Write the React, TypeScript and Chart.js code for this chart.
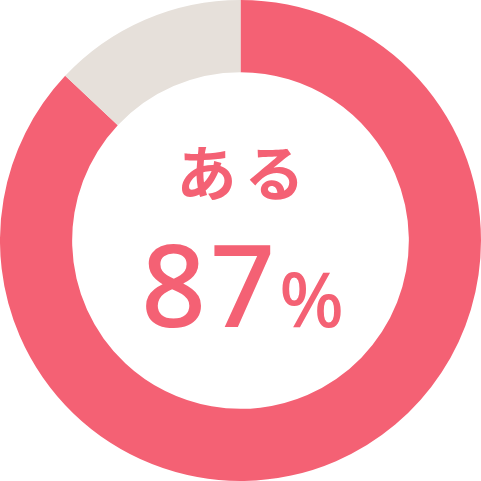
import React, { useEffect, useRef } from 'react'
import { Chart, registerables } from 'chart.js'

Chart.register(...registerables)

const labels = ['ある', 'ない']
const values = [87, 13]
const colors = ['#F46174', '#E6E0DA']
const centerLabel = 'ある'
const centerValue = '87'

export default function App() {
  const chartRef = useRef<HTMLCanvasElement>(null)
  const chartInstance = useRef<Chart | null>(null)

  useEffect(() => {
    document.body.style.margin = '0'
    if (!chartRef.current) return
    if (chartInstance.current) chartInstance.current.destroy()

    chartInstance.current = new Chart(chartRef.current, {
      type: 'doughnut',
      data: {
        labels,
        datasets: [{
          data: values,
          backgroundColor: colors,
          borderWidth: 0,
        }],
      },
      options: {
        responsive: false,
        animation: false,
        cutout: '70%',
        layout: { padding: 0 },
        plugins: { legend: { display: false }, tooltip: { enabled: false } },
      },
    })

    return () => chartInstance.current?.destroy()
  }, [])

  return (
    <div style={{ position: 'relative', width: 481, height: 481 }}>
      <canvas ref={chartRef} width={481} height={481} />
      <div
        style={{
          position: 'absolute',
          left: 4,
          top: 135,
          width: 481,
          textAlign: 'center',
          color: '#F46174',
          fontFamily: '"Noto Sans CJK JP", "Noto Sans", sans-serif',
          fontWeight: 700,
          fontSize: 60,
          letterSpacing: 8,
          lineHeight: '70px',
        }}
      >
        {centerLabel}
      </div>
      <div
        style={{
          position: 'absolute',
          left: 2,
          top: 228,
          width: 481,
          textAlign: 'center',
          color: '#F46174',
          fontFamily: '"Noto Sans", sans-serif',
          fontWeight: 500,
          lineHeight: '110px',
          whiteSpace: 'nowrap',
        }}
      >
        <span style={{ fontSize: 114, letterSpacing: 4 }}>{centerValue}</span>
        <span style={{ fontSize: 76 }}>%</span>
      </div>
    </div>
  )
}
